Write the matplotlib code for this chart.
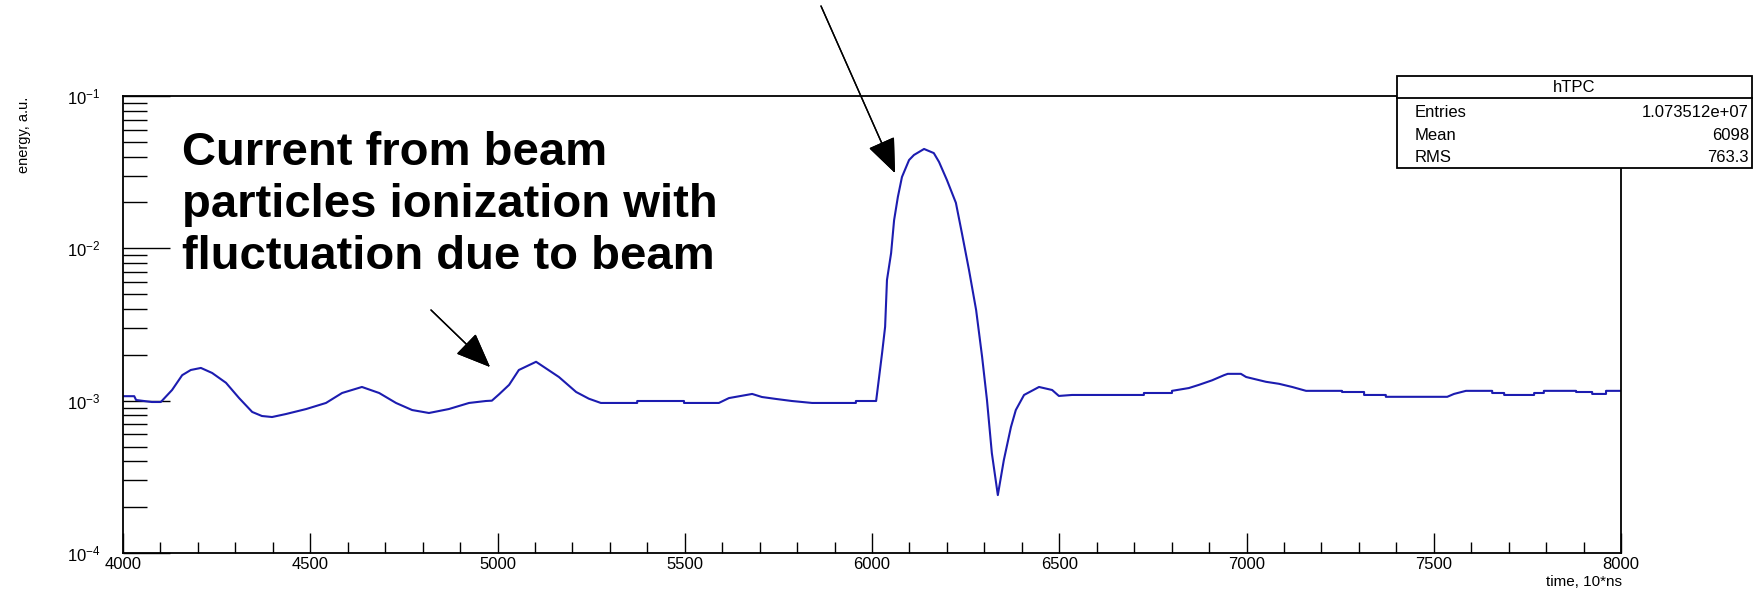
"""Recreate the hTPC energy vs time plot (ROOT-style log histogram)."""
import matplotlib
matplotlib.use("Agg")
import matplotlib.pyplot as plt
from matplotlib.patches import Rectangle
from matplotlib.lines import Line2D
from matplotlib.ticker import MultipleLocator, LogLocator, NullFormatter

plt.rcParams["font.family"] = ["Liberation Sans", "DejaVu Sans"]
plt.rcParams["mathtext.fontset"] = "custom"
plt.rcParams["mathtext.rm"] = "Liberation Sans"
plt.rcParams["mathtext.it"] = "Liberation Sans:italic"
plt.rcParams["mathtext.bf"] = "Liberation Sans:bold"

# time in units of 10 ns, energy in a.u.
time_10ns = [4000, 4030, 4035, 4077, 4101, 4131, 4158, 4181, 4208, 4238,
             4275, 4310, 4345, 4371, 4398, 4435, 4489, 4542, 4585, 4638,
             4684, 4729, 4772, 4817, 4870, 4924, 4969, 4985, 5004, 5031,
             5057, 5103, 5164, 5210, 5244, 5276, 5373, 5373, 5498, 5498,
             5591, 5618, 5680, 5706, 5744, 5786, 5840, 5957, 5957, 6011,
             6019, 6027, 6035, 6040, 6051, 6059, 6069, 6080, 6099, 6112,
             6139, 6165, 6179, 6200, 6224, 6240, 6259, 6278, 6294, 6307,
             6320, 6336, 6352, 6371, 6384, 6406, 6446, 6481, 6499, 6534,
             6726, 6726, 6801, 6801, 6846, 6873, 6908, 6940, 6950, 6985,
             6999, 7025, 7052, 7087, 7122, 7159, 7255, 7255, 7314, 7314,
             7372, 7372, 7536, 7554, 7586, 7656, 7656, 7688, 7688, 7768,
             7768, 7794, 7794, 7880, 7880, 7923, 7923, 7960, 7960, 8000]
energy = [1.07e-3, 1.07e-3, 1.01e-3, 0.98e-3, 0.98e-3, 1.175e-3, 1.47e-3, 1.59e-3, 1.64e-3, 1.52e-3,
          1.31e-3, 1.04e-3, 0.843e-3, 0.793e-3, 0.781e-3, 0.817e-3, 0.881e-3, 0.966e-3, 1.123e-3, 1.23e-3,
          1.123e-3, 0.966e-3, 0.868e-3, 0.830e-3, 0.881e-3, 0.966e-3, 0.995e-3, 1.0e-3, 1.1e-3, 1.27e-3,
          1.59e-3, 1.80e-3, 1.43e-3, 1.14e-3, 1.03e-3, 0.966e-3, 0.966e-3, 0.995e-3, 0.995e-3, 0.966e-3,
          0.966e-3, 1.04e-3, 1.107e-3, 1.057e-3, 1.026e-3, 0.995e-3, 0.966e-3, 0.966e-3, 0.995e-3, 0.995e-3,
          1.43e-3, 2.06e-3, 3.05e-3, 6.2e-3, 9.3e-3, 1.53e-2, 2.17e-2, 2.94e-2, 3.80e-2, 4.1e-2,
          4.49e-2, 4.22e-2, 3.69e-2, 2.81e-2, 1.99e-2, 1.26e-2, 7.21e-3, 3.94e-3, 1.94e-3, 1.01e-3,
          4.53e-4, 2.40e-4, 4.07e-4, 6.71e-4, 8.68e-4, 1.09e-3, 1.23e-3, 1.175e-3, 1.074e-3, 1.09e-3,
          1.09e-3, 1.123e-3, 1.123e-3, 1.16e-3, 1.21e-3, 1.27e-3, 1.36e-3, 1.47e-3, 1.50e-3, 1.50e-3,
          1.43e-3, 1.38e-3, 1.33e-3, 1.29e-3, 1.23e-3, 1.16e-3, 1.16e-3, 1.14e-3, 1.14e-3, 1.09e-3,
          1.09e-3, 1.06e-3, 1.06e-3, 1.107e-3, 1.16e-3, 1.16e-3, 1.123e-3, 1.123e-3, 1.09e-3, 1.09e-3,
          1.123e-3, 1.123e-3, 1.16e-3, 1.16e-3, 1.14e-3, 1.14e-3, 1.107e-3, 1.107e-3, 1.16e-3, 1.16e-3]

stats_rows = [("Entries", "1.073512e+07"), ("Mean", "6098"), ("RMS", "763.3")]
note_lines = ["Current from beam", "particles ionization with", "fluctuation due to beam"]

W, H = 1754, 591


def fx(px):
    return px / W


def fy(py):
    return 1 - py / H


def main():
    fig = plt.figure(figsize=(W / 100, H / 100), dpi=100)
    ax = fig.add_axes([fx(123), fy(553), fx(1621) - fx(123), fy(96) - fy(553)])

    ax.plot(time_10ns, energy, color="#1c1cb0", lw=1.5)
    ax.set_yscale("log")
    ax.set_xlim(4000, 8000)
    ax.set_ylim(1e-4, 1e-1)

    ax.xaxis.set_major_locator(MultipleLocator(500))
    ax.xaxis.set_minor_locator(MultipleLocator(100))
    ax.yaxis.set_major_locator(LogLocator(base=10, numticks=10))
    ax.yaxis.set_minor_locator(LogLocator(base=10, subs=range(2, 10), numticks=20))
    ax.yaxis.set_minor_formatter(NullFormatter())

    ax.tick_params(axis="x", which="major", direction="in", length=14.5, width=1, labelsize=12, pad=3)
    ax.tick_params(axis="x", which="minor", direction="in", length=8, width=1)
    ax.tick_params(axis="y", which="major", direction="in", length=34, width=1, labelsize=12, pad=16)
    ax.tick_params(axis="y", which="minor", direction="in", length=17, width=1)
    for s in ax.spines.values():
        s.set_linewidth(1.3)

    fig.text(fx(24), fy(97), "energy, a.u.", rotation=90, ha="center", va="top", fontsize=10.5)
    fig.text(fx(1622), fy(582), "time, 10*ns", ha="right", va="center", fontsize=11)

    # stats box
    box_l, box_r, box_t, box_b = 1397, 1752, 76, 168
    fig.add_artist(Rectangle((fx(box_l), fy(box_b)), fx(box_r) - fx(box_l), fy(box_t) - fy(box_b),
                             transform=fig.transFigure, facecolor="white", edgecolor="black", lw=1.3))
    fig.add_artist(Line2D([fx(box_l), fx(box_r)], [fy(98), fy(98)], transform=fig.transFigure,
                          color="black", lw=1.3))
    fig.text(fx((box_l + box_r) / 2), fy(88), "hTPC", ha="center", va="center", fontsize=12)
    for i, (name, val) in enumerate(stats_rows):
        y = 113 + 22 * i
        fig.text(fx(1415), fy(y), name, ha="left", va="center", fontsize=12)
        fig.text(fx(1749), fy(y), val, ha="right", va="center", fontsize=12)

    # annotation text
    for i, line in enumerate(note_lines):
        fig.text(fx(182), fy(153 + 52 * i), line, ha="left", va="center",
                 fontsize=34, fontweight="bold")

    # arrows (figure pixels, origin bottom-left)
    arrow = dict(arrowstyle="-|>,head_length=1.1,head_width=0.45", color="black", lw=1,
                 mutation_scale=20, shrinkA=0, shrinkB=0)
    fig.add_artist(ax.annotate("", xy=(490, H - 367), xytext=(431, H - 310),
                               xycoords="figure pixels", textcoords="figure pixels",
                               arrowprops=arrow, annotation_clip=False))
    fig.add_artist(ax.annotate("", xy=(895, H - 173), xytext=(821, H - 6),
                               xycoords="figure pixels", textcoords="figure pixels",
                               arrowprops=arrow, annotation_clip=False))

    fig.savefig("out.png", dpi=100)


if __name__ == "__main__":
    main()
